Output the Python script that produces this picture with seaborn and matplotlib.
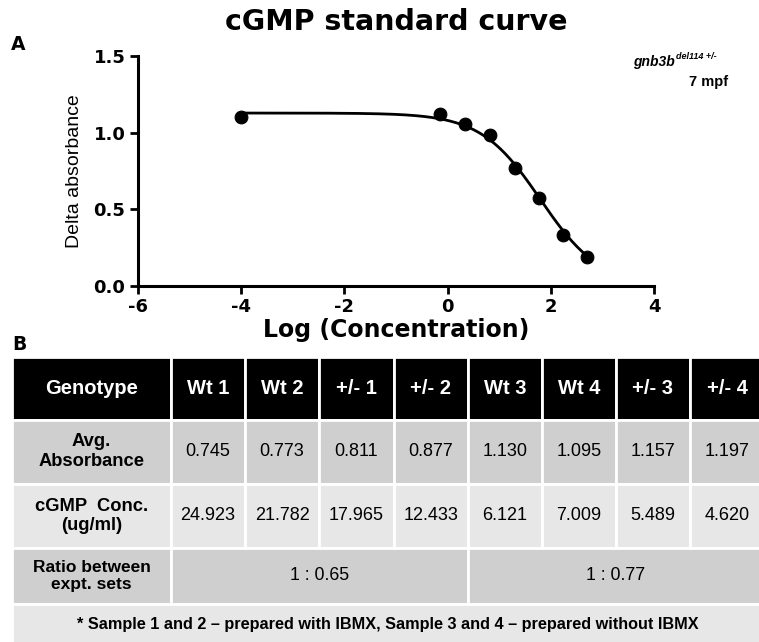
import numpy as np
import pandas as pd
import matplotlib
matplotlib.use("Agg")
import matplotlib.pyplot as plt
from matplotlib.patches import Rectangle
import seaborn as sns

# standard curve points
log_conc = [-4.0, -0.15, 0.34, 0.83, 1.30, 1.77, 2.24, 2.71]
delta_abs = [1.10, 1.12, 1.055, 0.985, 0.768, 0.576, 0.333, 0.189]

# 4PL fit parameters (estimated from the drawn curve)
fit_top = 1.128
fit_bottom = 0.0
fit_logec50 = 1.80
fit_hill = 0.75

# table values
genotypes = ["Wt 1", "Wt 2", "+/- 1", "+/- 2", "Wt 3", "Wt 4", "+/- 3", "+/- 4"]
avg_absorbance = ["0.745", "0.773", "0.811", "0.877", "1.130", "1.095", "1.157", "1.197"]
cgmp_conc = ["24.923", "21.782", "17.965", "12.433", "6.121", "7.009", "5.489", "4.620"]
ratios = ["1 : 0.65", "1 : 0.77"]
row_labels = ["Genotype", "Avg.\nAbsorbance", "cGMP  Conc.\n(ug/ml)", "Ratio between\nexpt. sets"]
footnote = "* Sample 1 and 2 \u2013 prepared with IBMX, Sample 3 and 4 \u2013 prepared without IBMX"

sns.set_style("ticks")
plt.rcParams["font.family"] = ["DejaVu Sans"]
plt.rcParams["axes.unicode_minus"] = False
for k in ["text.color", "axes.labelcolor", "xtick.color", "ytick.color", "axes.edgecolor"]:
    plt.rcParams[k] = "black"
lib = ["Liberation Sans", "DejaVu Sans"]

W, H = 759, 642
fig = plt.figure(figsize=(W / 100, H / 100), dpi=100)


def fx(px):
    return px / W


def fy(py):
    return 1 - py / H


# ---- panel A: standard curve ----
ax = fig.add_axes([fx(138), fy(286), (654 - 138) / W, (286 - 56) / H])
xs = np.linspace(log_conc[0], log_conc[-1], 300)
ys = fit_bottom + (fit_top - fit_bottom) / (1 + 10 ** ((xs - fit_logec50) * fit_hill))
curve = pd.DataFrame({"x": xs, "y": ys})
pts = pd.DataFrame({"x": log_conc, "y": delta_abs})
sns.lineplot(data=curve, x="x", y="y", color="black", linewidth=2.0, ax=ax)
sns.scatterplot(data=pts, x="x", y="y", color="black", s=85, edgecolor="black", zorder=3, ax=ax)

ax.set_xlim(-6, 4)
ax.set_ylim(0, 1.5)
ax.set_xticks([-6, -4, -2, 0, 2, 4])
ax.set_yticks([0.0, 0.5, 1.0, 1.5])
ax.set_yticklabels(["0.0", "0.5", "1.0", "1.5"])
for s in ["top", "right"]:
    ax.spines[s].set_visible(False)
for s in ["left", "bottom"]:
    ax.spines[s].set_linewidth(2.2)
ax.tick_params(width=2.0, length=6, labelsize=13, pad=3)
for lab in ax.get_xticklabels() + ax.get_yticklabels():
    lab.set_fontweight("bold")
ax.set_xlabel("Log (Concentration)", fontsize=17, fontweight="bold", labelpad=1)
ax.set_ylabel("Delta absorbance", fontsize=14, family=lib, labelpad=8)

fig.text(fx(396), fy(22), "cGMP standard curve", fontsize=20.5, fontweight="bold",
         ha="center", va="center")
fig.text(fx(11), fy(44), "A", fontsize=13.5, fontweight="bold", ha="left", va="center")
fig.text(fx(12), fy(345), "B", fontsize=13.5, fontweight="bold", ha="left", va="center")
fig.text(fx(675), fy(66), "gnb3b", fontsize=10, fontweight="bold", style="italic",
         family=lib, ha="right", va="baseline")
fig.text(fx(676), fy(59), "del114 +/-", fontsize=6.5, fontweight="bold", style="italic",
         family=lib, ha="left", va="baseline")
fig.text(fx(728), fy(82), "7 mpf", fontsize=10.5, fontweight="bold",
         family=lib, ha="right", va="center")

# ---- panel B: table ----
tax = fig.add_axes([0, 0, 1, 1], zorder=-1)
tax.set_xlim(0, W)
tax.set_ylim(H, 0)
tax.axis("off")

col_edges = [12, 171, 245, 319, 394, 468, 542, 616, 690, 764]
row_edges = [357, 419.5, 484, 548, 603.5, 645]
dark, grey, light = "black", "#cfcfcf", "#e7e7e7"
row_fill = [dark, grey, light, grey]


def cell(x0, x1, y0, y1, fill, text, color="black", weight="normal", size=13):
    tax.add_patch(Rectangle((x0, y0), x1 - x0, y1 - y0, facecolor=fill,
                            edgecolor="white", linewidth=2))
    tax.text((x0 + x1) / 2, (y0 + y1) / 2, text, ha="center", va="center",
             color=color, fontweight=weight, fontsize=size, family=lib,
             linespacing=1.2)


row_values = [genotypes, avg_absorbance, cgmp_conc]
for r in range(3):
    y0, y1 = row_edges[r], row_edges[r + 1]
    if r == 0:
        cell(col_edges[0], col_edges[1], y0, y1, dark, row_labels[0], "white", "bold", 14.5)
    else:
        cell(col_edges[0], col_edges[1], y0, y1, row_fill[r], row_labels[r], "black", "bold", 13.2)
    for c, v in enumerate(row_values[r]):
        if r == 0:
            cell(col_edges[c + 1], col_edges[c + 2], y0, y1, dark, v, "white", "bold", 14.5)
        else:
            cell(col_edges[c + 1], col_edges[c + 2], y0, y1, row_fill[r], v)

y0, y1 = row_edges[3], row_edges[4]
cell(col_edges[0], col_edges[1], y0, y1, grey, row_labels[3], "black", "bold", 12.5)
cell(col_edges[1], col_edges[5], y0, y1, grey, ratios[0], size=12.8)
cell(col_edges[5], col_edges[9], y0, y1, grey, ratios[1], size=12.8)
cell(col_edges[0], col_edges[9], row_edges[4], row_edges[5], light, footnote,
     "black", "bold", 11.7)

fig.savefig("out.png", dpi=100)
